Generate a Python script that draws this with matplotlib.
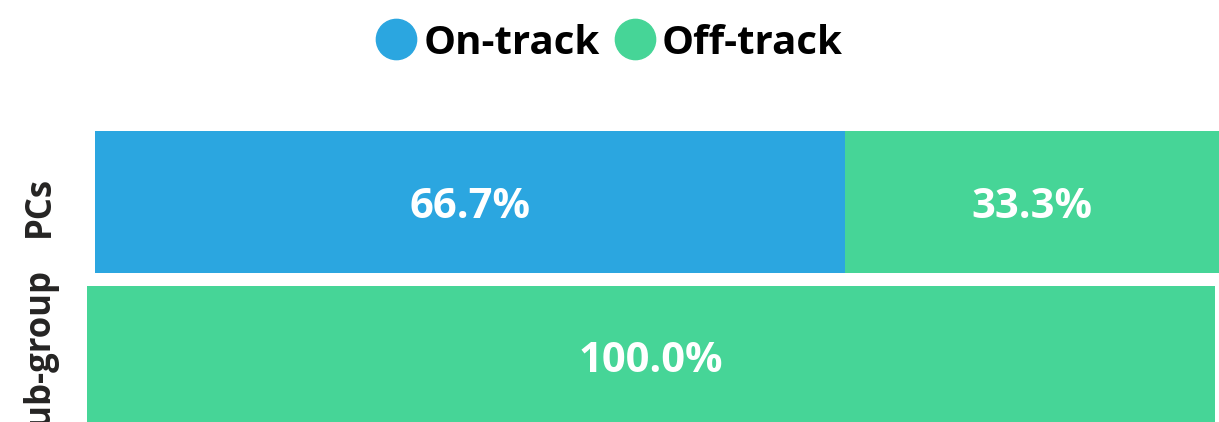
import matplotlib
matplotlib.use("Agg")
import matplotlib.pyplot as plt
from matplotlib.lines import Line2D

categories = ["PCs", "Sub-group"]
on_track = [66.7, 0.0]
off_track = [33.3, 100.0]
series_names = ["On-track", "Off-track"]
colors = ["#2BA6E0", "#46D597"]

plt.rcParams["font.family"] = ["Open Sans", "DejaVu Sans"]

W, H = 1219, 422
fig = plt.figure(figsize=(W / 100, H / 100), dpi=100)

# axes rectangles in pixels: (left, top, width, height)
rects = [(95, 131, 1124, 142), (87, 286, 1128, 142)]
label_pos = [(40, 206), (40, 357)]

for i, cat in enumerate(categories):
    l, t, w, h = rects[i]
    ax = fig.add_axes([l / W, 1 - (t + h) / H, w / W, h / H])
    ax.barh([0], [on_track[i]], color=colors[0], height=1.0)
    ax.barh([0], [off_track[i]], left=[on_track[i]], color=colors[1], height=1.0)
    ax.set_xlim(0, 100)
    ax.set_ylim(-0.5, 0.5)
    ax.axis("off")
    for val, start in ((on_track[i], 0), (off_track[i], on_track[i])):
        if val > 0:
            ax.text(start + val / 2, 0, f"{val:.1f}%", ha="center", va="center_baseline",
                    color="white", fontsize=30, fontweight="bold")
    lx, ly = label_pos[i]
    fig.text(lx / W, 1 - ly / H, cat, rotation=90, ha="center", va="center",
             fontsize=25, fontweight="bold", color="#252423")

handles = [Line2D([], [], marker="o", linestyle="none", markersize=29,
                  markerfacecolor=c, markeredgecolor=c) for c in colors]
leg = fig.legend(handles, series_names, loc="center", bbox_to_anchor=(612 / W, 1 - 43 / H),
                 ncol=2, frameon=False, handlelength=0.75, handletextpad=0.3,
                 columnspacing=0.5, prop={"size": 29, "weight": "bold"})

fig.savefig("out.png", dpi=100)
